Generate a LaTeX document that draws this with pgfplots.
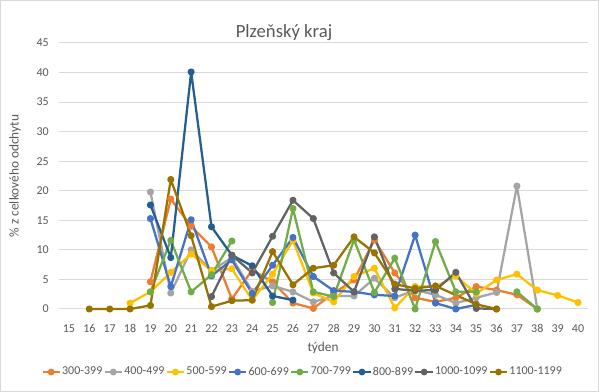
\documentclass[border=0pt]{standalone}
\usepackage{pgfplots}
\pgfplotsset{compat=1.18}
\usepackage{fontspec}
\setmainfont{Carlito}
\definecolor{cOrange}{HTML}{ED7D31}
\definecolor{cGrey}{HTML}{A5A5A5}
\definecolor{cYellow}{HTML}{FFC000}
\definecolor{cBlue}{HTML}{4472C4}
\definecolor{cGreen}{HTML}{70AD47}
\definecolor{cDBlue}{HTML}{255E91}
\definecolor{cDGrey}{HTML}{636363}
\definecolor{cGold}{HTML}{997300}
\definecolor{gridc}{HTML}{D9D9D9}
\definecolor{txt}{HTML}{595959}
\begin{document}
\begin{tikzpicture}
\path[use as bounding box] (0,0) rectangle (449.25pt,294pt);
\draw[gridc, line width=0.75pt] (0.6pt,0.6pt) rectangle (448.6pt,293.4pt);
\begin{axis}[
  at={(44.1pt,62.25pt)}, anchor=south west,
  scale only axis, width=397.05pt, height=199.5pt,
  xmin=14.5, xmax=40.5, ymin=0, ymax=45,
  xtick={15,...,40}, ytick={0,5,...,45},
  major tick length=0pt,
  axis line style={draw=none},
  ymajorgrids, grid style={gridc, line width=0.75pt},
  /pgf/number format/assume math mode=true,
  ticklabel style={font=\fontsize{9}{10}\selectfont, text=txt},
  xticklabel style={yshift=-8pt},
  yticklabel style={xshift=-4pt},
  unbounded coords=jump,
  every axis plot/.append style={line width=1.7pt, line join=round, mark=*, mark size=1.8pt, mark options={solid}},
  legend columns=8,
  legend style={at={(0.46,-0.237)}, anchor=center, draw=none, fill=none,
    font=\fontsize{9}{10}\selectfont, text=txt, inner sep=0pt,
    nodes={inner sep=1pt},
    /tikz/every even column/.append style={column sep=0pt}},
  legend image code/.code={\draw[#1, line width=1.5pt, mark repeat=2, mark phase=2] plot coordinates {(0pt,0pt) (6.5pt,0pt) (13pt,0pt)};},
  clip=false,
]
\addplot[cOrange] coordinates {(19,4.6)(20,18.6)(21,14.0)(22,10.5)(23,1.7)(24,6.6)(25,4.6)(26,1.0)(27,0.1)(28,2.7)(29,4.9)(30,11.7)(31,6.1)(32,1.9)(33,1.2)(34,1.9)(35,3.8)(36,3.2)(37,2.4)(38,0)};
\addlegendentry{300-399}
\addplot[cGrey] coordinates {(19,19.8)(20,2.7)(21,10.0)(22,6.5)(23,8.7)(24,3.0)(25,3.9)(26,2.9)(27,1.2)(28,2.2)(29,2.2)(30,5.2)(31,1.9)(32,3.2)(33,2.4)(34,1.0)(35,1.9)(36,2.8)(37,20.8)(38,0)};
\addlegendentry{400-499}
\addplot[cYellow] coordinates {(18,1.0)(19,2.9)(20,6.2)(21,9.3)(22,6.5)(23,6.8)(24,1.5)(25,5.9)(26,11.6)(27,2.7)(28,1.2)(29,5.5)(30,6.9)(31,0.2)(32,3.8)(33,3.8)(34,5.6)(35,2.6)(36,4.9)(37,5.9)(38,3.2)(39,2.3)(40,1.1)};
\addlegendentry{500-599}
\addplot[cBlue] coordinates {(19,15.3)(20,3.8)(21,15.1)(22,5.6)(23,8.3)(24,2.6)(25,7.4)(26,12.1)(27,5.5)(28,3.1)(29,2.9)(30,2.4)(31,2.2)(32,12.5)(33,1.0)(34,0)(35,0.7)};
\addlegendentry{600-699}
\addplot[cGreen] coordinates {(19,2.9)(20,11.6)(21,2.9)(22,5.8)(23,11.5)(24,nan)(25,1.1)(26,17.0)(27,2.9)(28,2.1)(29,11.7)(30,2.8)(31,8.6)(32,0)(33,11.4)(34,2.9)(35,2.9)(36,nan)(37,2.9)(38,0)};
\addlegendentry{700-799}
\addplot[cDBlue] coordinates {(19,17.6)(20,8.7)(21,40.1)(22,13.9)(23,9.1)(24,7.3)(25,2.2)(26,1.5)};
\addlegendentry{800-899}
\addplot[cDGrey] coordinates {(22,2.1)(23,9.1)(24,6.1)(25,12.3)(26,18.4)(27,15.3)(28,6.1)(29,2.9)(30,12.2)(31,3.4)(32,3.1)(33,3.2)(34,6.2)(35,0.1)(36,0)};
\addlegendentry{1000-1099}
\addplot[cGold] coordinates {(16,0)(17,0)(18,0)(19,0.6)(20,21.9)(21,12.4)(22,0.4)(23,1.4)(24,1.5)(25,9.7)(26,4.1)(27,6.9)(28,7.4)(29,12.2)(30,9.5)(31,4.2)(32,3.5)(33,3.9)(35,0.8)(36,0)};
\addlegendentry{1100-1199}
\end{axis}
\node[text=txt, font=\fontsize{14}{16}\selectfont] at (213pt,269.25pt) {Plzeňský kraj};
\node[text=txt, font=\fontsize{10}{12}\selectfont, rotate=90] at (11.25pt,162pt) {\% z celkového odchytu};
\node[text=txt, font=\fontsize{10}{12}\selectfont] at (242.25pt,33pt) {týden};
\end{tikzpicture}
\end{document}
